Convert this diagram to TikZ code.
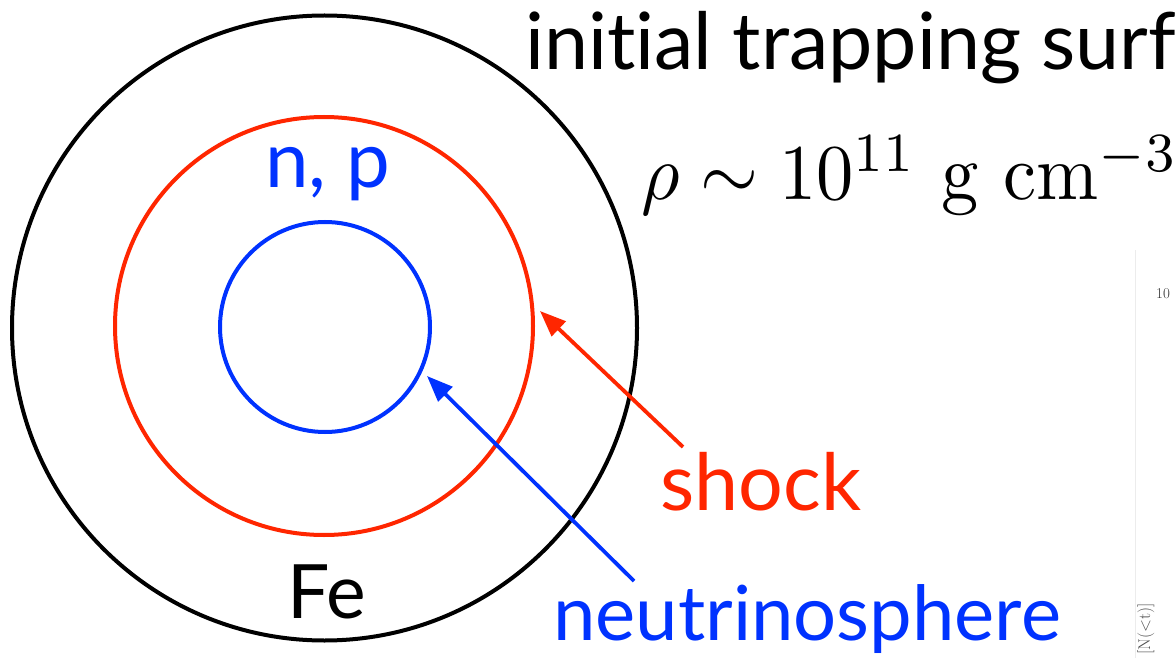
\documentclass[tikz,border=0pt]{standalone}
\usepackage{fontspec}
\newfontfamily\gill[Ligatures=NoCommon]{Lato}
\usetikzlibrary{arrows.meta}
\definecolor{shockred}{RGB}{255,38,0}
\definecolor{nublue}{RGB}{0,50,255}
\definecolor{faint}{RGB}{236,236,236}
\tikzset{
  ring/.style={circle, draw, line width=4pt, inner sep=0pt},
  lbl/.style={anchor=base west, inner sep=0pt, font=\gill\fontsize{#1}{#1}\selectfont},
  pointer/.style={line width=3.8pt, -{Triangle[length=26pt,width=20pt]}},
}
\begin{document}
\begin{tikzpicture}[x=1pt,y=-1pt]
\useasboundingbox[fill=white] (0,0) rectangle (1176,658);
\begin{scope}
\clip (0,0) rectangle (1176,658);
% faint plot remnants
\draw[faint, line width=1pt] (1135,250) -- (1135,658);
\node[anchor=base west, inner sep=0pt, font=\fontsize{15}{15}\selectfont, text=black!80] (ten) at (1156,298) {10};
\node[anchor=base west, inner sep=0pt, rotate=90, font=\fontsize{17}{17}\selectfont, text=black!70] (nt) at (1150,655) {[N(<t)]};
% rings
\node[ring, draw=black, minimum size=625pt] (fe) at (324.5,328) {};
\node[ring, draw=shockred, minimum size=418pt] (sh) at (324,326) {};
\node[ring, draw=nublue, minimum size=210pt] (ns) at (325,327) {};
% labels
\node[lbl=79] (title) at (525,70) {initial trapping surf};
\node[anchor=base west, inner sep=0pt] (rho) at (641,200) {\scalebox{7.45}[7.9]{$\rho\sim10^{11}\ \mathrm{g\ cm}^{-3}$}};
\node[lbl=78, text=nublue] (np) at (265,188) {n, p};
\node[lbl=75, text=black] (felbl) at (287,618) {Fe};
\node[lbl=79, text=shockred] (shlbl) at (660,510) {shock};
\node[lbl=76, text=nublue] (nslbl) at (553,640) {neutrinosphere};
% arrows
\coordinate (shtail) at (683,447);
\coordinate (shtip) at (540,311);
\coordinate (nstail) at (634,581);
\coordinate (nstip) at (427,376);
\draw[pointer, shockred] (shtail) -- (shtip);
\draw[pointer, nublue] (nstail) -- (nstip);
\end{scope}
\end{tikzpicture}
\end{document}
